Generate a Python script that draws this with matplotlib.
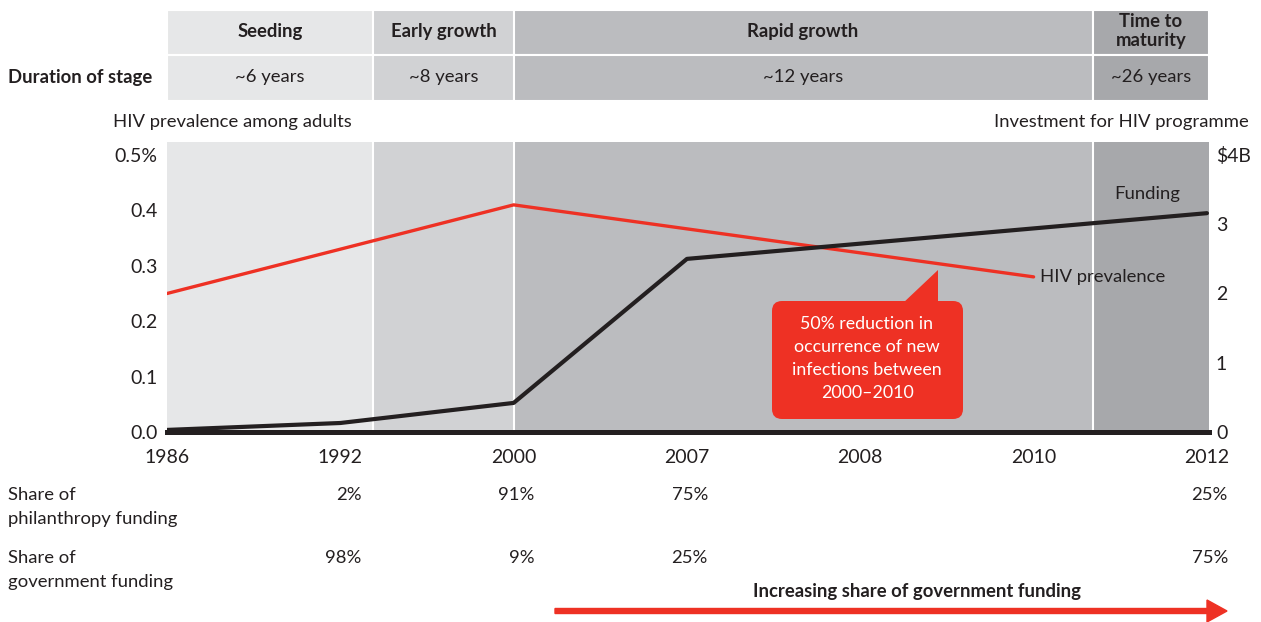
import matplotlib
matplotlib.use("Agg")
import matplotlib.pyplot as plt
import matplotlib.transforms as mtransforms
from matplotlib.patches import FancyBboxPatch, Polygon, Rectangle, FancyArrow

# ---------------- data ----------------
year_labels = ["1986", "1992", "2000", "2007", "2008", "2010", "2012"]
prevalence_years = ["1986", "2000", "2010"]
prevalence_pct = [0.25, 0.41, 0.28]
funding_years = ["1986", "1992", "2000", "2007", "2012"]
funding_busd = [0.03, 0.13, 0.42, 2.50, 3.16]
stage_names = ["Seeding", "Early growth", "Rapid growth", "Time to\nmaturity"]
stage_durations = ["~6 years", "~8 years", "~12 years", "~26 years"]
stage_edges = [0.0, 1.19, 2.0, 5.34, 6.012]
share_years = ["1992", "2000", "2007", "2012"]
philanthropy_share = ["2%", "91%", "75%", "25%"]
government_share = ["98%", "9%", "25%", "75%"]
left_ticks = [0.0, 0.1, 0.2, 0.3, 0.4, 0.5]
left_tick_labels = ["0.0", "0.1", "0.2", "0.3", "0.4", "0.5%"]
right_ticks = [0, 1, 2, 3, 4]
right_tick_labels = ["0", "1", "2", "3", "$4B"]

# ---------------- style ----------------
RED = "#ee3124"
BLACK = "#231f20"
STAGE_COLORS = ["#e6e7e8", "#d1d2d4", "#bbbcbf", "#a7a8ab"]
FS = 13.3      # regular text
FSB = 13.3     # bold text
FST = 14       # tick labels
W, H = 1261, 622
plt.rcParams['font.family'] = ['Lato', 'DejaVu Sans']
plt.rcParams['text.color'] = BLACK

fig = plt.figure(figsize=(W / 100, H / 100), dpi=100)
L, R, T, B = 167, 1209, 142, 432
ax = fig.add_axes([L / W, 1 - B / H, (R - L) / W, (B - T) / H])
ax.set_xlim(stage_edges[0], stage_edges[-1])
ax.set_ylim(0, 0.5 * (B - T) / (B - 155))

# pixel-from-top transform
top_px = mtransforms.Affine2D().scale(1 / W, -1 / H).translate(0, 1) + fig.transFigure
blend = mtransforms.blended_transform_factory(ax.transData, top_px)

# stage backgrounds
for i in range(4):
    ax.axvspan(stage_edges[i], stage_edges[i + 1], color=STAGE_COLORS[i], lw=0, zorder=0)
for e in stage_edges[1:-1]:
    ax.axvline(e, color="white", lw=1.5, zorder=1)

# header table
for i in range(4):
    x0, x1 = stage_edges[i], stage_edges[i + 1]
    for (y0, y1) in [(10, 55), (55, 101)]:
        ax.add_patch(Rectangle((x0, y0), x1 - x0, y1 - y0, transform=blend,
                               facecolor=STAGE_COLORS[i], edgecolor="white",
                               lw=1.5, clip_on=False, zorder=1))
    xc = (x0 + x1) / 2
    ax.text(xc, 31, stage_names[i], transform=blend, ha="center", va="center",
            fontsize=FSB, fontweight="bold", linespacing=1.2)
    ax.text(xc, 77, stage_durations[i], transform=blend, ha="center", va="center",
            fontsize=FS)
ax.text(8, 77, "Duration of stage", transform=top_px, ha="left", va="center",
        fontsize=FSB, fontweight="bold")

# lines
xi = {y: i for i, y in enumerate(year_labels)}
ax.plot([xi[y] for y in prevalence_years], prevalence_pct, color=RED, lw=2.4,
        zorder=5, solid_capstyle="round")
ax2 = ax.twinx()
ax2.set_ylim(0, 4 * (B - T) / (B - 155))
ax2.plot([xi[y] for y in funding_years], funding_busd, color=BLACK, lw=3,
         zorder=4, solid_capstyle="round")

# axes styling
for a in (ax, ax2):
    for s in a.spines.values():
        s.set_visible(False)
ax.spines["bottom"].set_visible(True)
ax.spines["bottom"].set_linewidth(3.6)
ax.spines["bottom"].set_color(BLACK)
ax.spines["bottom"].set_zorder(6)
ax.set_xticks(range(len(year_labels)), year_labels)
ax.set_yticks(left_ticks, left_tick_labels)
ax2.set_yticks(right_ticks, right_tick_labels)
ax.tick_params(axis="x", length=0, pad=12, labelsize=FST, labelcolor=BLACK)
ax.tick_params(axis="y", length=0, pad=7, labelsize=FST, labelcolor=BLACK)
ax2.tick_params(axis="y", length=0, pad=5, labelsize=FST, labelcolor=BLACK)

# axis titles
ax.text(113, 122, "HIV prevalence among adults", transform=top_px, ha="left",
        va="center", fontsize=FS)
ax.text(1249, 122, "Investment for HIV programme", transform=top_px, ha="right",
        va="center", fontsize=FS)

# series labels
ax.text(1147, 194, "Funding", transform=top_px, ha="center", va="center", fontsize=FS)
ax.text(1040, 277, "HIV prevalence", transform=top_px, ha="left", va="center", fontsize=FS)

# callout
ax.add_patch(FancyBboxPatch((772, 301), 191, 118, boxstyle="round,pad=0,rounding_size=10",
                            transform=top_px, facecolor=RED, edgecolor="none",
                            clip_on=False, zorder=7))
ax.add_patch(Polygon([(902, 304), (938, 304), (938, 270)], closed=True, transform=top_px,
                     facecolor=RED, edgecolor="none", clip_on=False, zorder=7))
ax.text(867, 358.5, "50% reduction in\noccurrence of new\ninfections between\n2000\u20132010",
        transform=top_px, ha="center", va="center", color="white", fontsize=12.8,
        linespacing=1.55, zorder=8)

# share rows
val_tr = mtransforms.offset_copy(blend, fig=fig, x=21, y=0, units="dots")
ax.text(8, 507, "Share of\nphilanthropy funding", transform=top_px, ha="left",
        va="center", fontsize=FS, linespacing=1.6)
ax.text(8, 570, "Share of\ngovernment funding", transform=top_px, ha="left",
        va="center", fontsize=FS, linespacing=1.6)
for y, p, g in zip(share_years, philanthropy_share, government_share):
    ax.text(xi[y], 495, p, transform=val_tr, ha="right", va="center", fontsize=FS)
    ax.text(xi[y], 558, g, transform=val_tr, ha="right", va="center", fontsize=FS)

# bottom arrow
ax.add_patch(FancyArrow(555, 611, 672, 0, width=5, head_width=22, head_length=20,
                        length_includes_head=True, transform=top_px, color=RED,
                        clip_on=False))
ax.text(917, 592, "Increasing share of government funding", transform=top_px,
        ha="center", va="center", fontsize=FSB, fontweight="bold")

fig.savefig("out.png", dpi=100)
